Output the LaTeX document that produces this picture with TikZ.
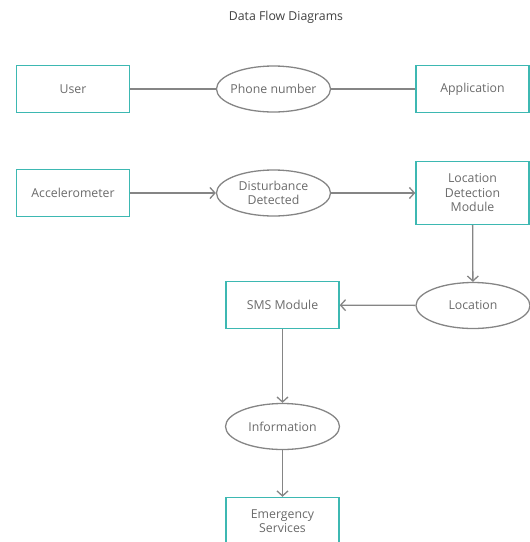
\documentclass[tikz,border=0pt]{standalone}
\usepackage{fontspec}
\setmainfont{Open Sans}
\usetikzlibrary{shapes.geometric,arrows.meta}
\definecolor{boxteal}{HTML}{3DB8B2}
\definecolor{linegray}{HTML}{858585}
\definecolor{textgray}{HTML}{6A6A6A}

\begin{document}
\begin{tikzpicture}[x=1pt,y=-1pt,
    font=\fontsize{12.3}{14.5}\selectfont,
    entity/.style={draw=boxteal,line width=1.4pt,minimum width=113pt,minimum height=47pt,
        text=textgray,align=center,inner sep=0pt},
    flow/.style={ellipse,draw=linegray,line width=1.3pt,minimum width=114pt,minimum height=46pt,
        text=textgray,align=center,inner xsep=-14pt,inner ysep=-6pt},
    link/.style={draw=linegray,line width=1.3pt},
    arrow/.style={link,-{Straight Barb[length=5pt,width=11pt]}}]
    \useasboundingbox (0,0) rectangle (530,542);

    \node[text=black!75] (title) at (286,17) {Data Flow Diagrams};

    % first row
    \node[entity] (user) at (73,89) {User};
    \node[flow] (phone) at (273.5,89) {Phone number};
    \node[entity] (app) at (472.5,89) {Application};

    % second row
    \node[entity] (acc) at (73,193) {Accelerometer};
    \node[flow] (dist) at (273.5,193) {Disturbance\\Detected};
    \node[entity,minimum height=63pt] (ldm) at (472.5,193) {Location\\Detection\\Module};

    \node[flow] (loc) at (473,305.5) {Location};
    \node[entity] (sms) at (282.5,305) {SMS Module};
    \node[flow] (info) at (282.5,426.5) {Information};
    \node[entity] (emg) at (282.5,521) {Emergency\\Services};

    \draw[link] (user) -- (phone);
    \draw[link] (phone) -- (app);
    \draw[arrow] (acc) -- (dist);
    \draw[arrow] (dist) -- (ldm);
    \draw[arrow] (ldm) -- (loc);
    \draw[arrow] (loc) -- (sms);
    \draw[arrow] (sms) -- (info);
    \draw[arrow] (info) -- (emg);
\end{tikzpicture}
\end{document}
